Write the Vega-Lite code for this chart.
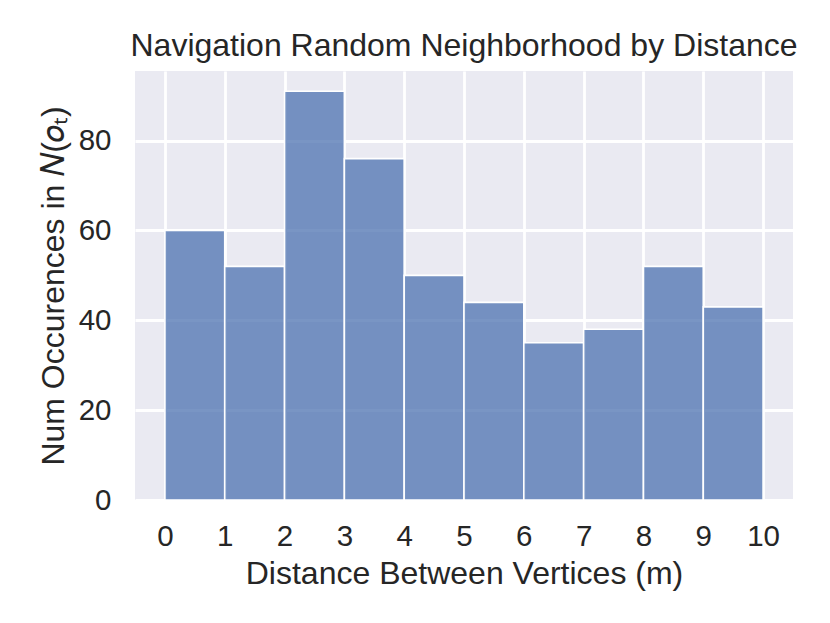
{
  "$schema": "https://vega.github.io/schema/vega-lite/v6.json",
  "autosize": "none",
  "width": 658,
  "height": 429,
  "padding": {"left": 135, "top": 71, "right": 37, "bottom": 123},
  "background": "white",
  "title": {"text": "Navigation Random Neighborhood by Distance", "font": "Liberation Sans", "fontSize": 32, "fontWeight": "normal", "color": "#262626", "offset": 8},
  "config": {
    "view": {"fill": "#EAEAF2", "stroke": null},
    "axis": {"domain": false, "ticks": false, "gridColor": "white", "gridWidth": 2.8, "gridOpacity": 1, "labelFont": "Liberation Sans", "labelFontSize": 29.5, "labelColor": "#262626", "titleFont": "Liberation Sans", "titleFontSize": 32, "titleFontWeight": "normal", "titleColor": "#262626"}
  },
  "data": {"values": [
    {"start": 0, "end": 1, "count": 60},
    {"start": 1, "end": 2, "count": 52},
    {"start": 2, "end": 3, "count": 91},
    {"start": 3, "end": 4, "count": 76},
    {"start": 4, "end": 5, "count": 50},
    {"start": 5, "end": 6, "count": 44},
    {"start": 6, "end": 7, "count": 35},
    {"start": 7, "end": 8, "count": 38},
    {"start": 8, "end": 9, "count": 52},
    {"start": 9, "end": 10, "count": 43}
  ]},
  "mark": {"type": "rect", "fill": "#4C72B0", "fillOpacity": 0.75, "stroke": "white", "strokeWidth": 1.6},
  "encoding": {
    "x": {"field": "start", "type": "quantitative", "scale": {"domain": [-0.5, 10.5], "nice": false, "zero": false},
      "axis": {"values": [0,1,2,3,4,5,6,7,8,9,10], "title": "Distance Between Vertices (m)", "labelPadding": 22, "titlePadding": 8, "labelFlush": false}},
    "x2": {"field": "end"},
    "y": {"field": "count", "type": "quantitative", "scale": {"domain": [0, 95.5], "nice": false},
      "axis": {"values": [0,20,40,60,80], "title": "Num Occurences in 𝑁(𝑜ₜ)", "labelPadding": 24, "titlePadding": 8}},
    "y2": {"datum": 0}
  }
}
